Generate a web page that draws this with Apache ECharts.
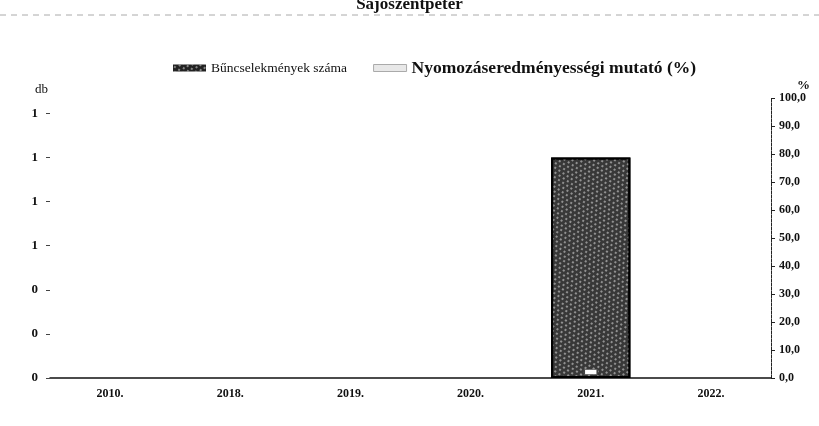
<!DOCTYPE html>
<html>
<head>
<meta charset="utf-8">
<script src="https://cdn.jsdelivr.net/npm/echarts@6/dist/echarts.min.js"></script>
<style>
  html, body { margin: 0; padding: 0; background: #fff; }
  #chart { width: 819px; height: 426px; }
</style>
</head>
<body>
<div id="chart"></div>
<script>
// adatok
const years = ['2010.', '2018.', '2019.', '2020.', '2021.', '2022.']
const crimeCount = [0, 0, 0, 0, 1, 0]
const solveRate = [null, null, null, null, 0, null]
const leftTicks = [0, 0.2, 0.4, 0.6, 0.8, 1.0, 1.2]

const serif = '"Liberation Serif", "DejaVu Serif", serif'
const chart = echarts.init(document.getElementById('chart'))

chart.setOption({
  backgroundColor: '#fff',
  animation: false,
  title: {
    text: 'Sajószentpéter',
    left: 'center',
    top: -9,
    textStyle: { fontFamily: serif, fontSize: 17, fontWeight: 'bold', color: '#111' }
  },
  legend: {
    top: 54,
    left: 168,
    itemWidth: 33,
    itemHeight: 7,
    itemGap: 26,
    textStyle: {
      fontFamily: serif, color: '#111',
      rich: {
        a: { fontFamily: serif, fontSize: 13.5, color: '#111' },
        b: { fontFamily: serif, fontSize: 17.5, fontWeight: 'bold', color: '#111' }
      }
    },
    formatter: name => name === 'Bűncselekmények száma' ? '{a|' + name + '}' : '{b|' + name + '}',
    data: [
      { name: 'Bűncselekmények száma', icon: 'rect', itemStyle: { color: '#222', borderWidth: 0 } },
      { name: 'Nyomozáseredményességi mutató (%)', icon: 'rect', itemStyle: { color: '#e8e8e8', borderColor: '#aaa', borderWidth: 1 } }
    ]
  },
  graphic: [{
    type: 'line',
    shape: { x1: 0, y1: 15, x2: 819, y2: 15 },
    style: { stroke: '#aaa', lineWidth: 1, lineDash: [6, 5] }
  }],
  grid: { left: 50, right: 48, top: 98, bottom: 48 },
  xAxis: {
    type: 'category',
    data: years,
    axisLine: { lineStyle: { color: '#111', width: 1.5 } },
    axisTick: { show: false },
    axisLabel: { fontFamily: serif, fontSize: 12, fontWeight: 'bold', color: '#111', margin: 10 }
  },
  yAxis: [
    {
      type: 'value',
      name: 'db',
      min: 0,
      max: 1.27,
      nameGap: 2,
      nameTextStyle: { fontFamily: serif, fontSize: 13, color: '#111', align: 'right', padding: [0, 2, 0, 0] },
      axisLine: { show: false },
      axisTick: { show: true, length: 4, customValues: leftTicks, lineStyle: { color: '#444' } },
      splitLine: { show: false },
      axisLabel: {
        fontFamily: serif, fontSize: 13, fontWeight: 'bold', color: '#111', margin: 12,
        customValues: leftTicks,
        formatter: v => String(Math.round(v))
      }
    },
    {
      type: 'value',
      name: '%',
      min: 0,
      max: 100,
      interval: 10,
      nameGap: 4,
      nameTextStyle: { fontFamily: serif, fontSize: 13, fontWeight: 'bold', color: '#111', align: 'left', padding: [0, 0, 0, 26] },
      axisLine: { show: true, lineStyle: { color: '#222', width: 1, type: [3, 1] } },
      axisTick: { show: true, length: 4, lineStyle: { color: '#222' } },
      splitLine: { show: false },
      axisLabel: {
        fontFamily: serif, fontSize: 12, fontWeight: 'bold', color: '#111', margin: 8,
        formatter: v => v.toFixed(1).replace('.', ',')
      }
    }
  ],
  series: [
    {
      name: 'Bűncselekmények száma',
      type: 'bar',
      yAxisIndex: 0,
      data: crimeCount.map(v => ({ value: v, itemStyle: v ? {} : { borderWidth: 0 } })),
      barWidth: '66%',
      itemStyle: {
        color: '#383838',
        borderColor: '#000',
        borderWidth: 2,
        decal: {
          symbol: 'circle',
          symbolSize: 1,
          color: 'rgba(225,225,225,0.7)',
          dashArrayX: [[2, 3], [0, 2, 2, 1]],
          dashArrayY: [2, 2],
          rotation: 0.6
        }
      }
    },
    {
      name: 'Nyomozáseredményességi mutató (%)',
      type: 'line',
      yAxisIndex: 1,
      data: solveRate,
      symbol: 'rect',
      symbolSize: [13, 5],
      symbolOffset: [0, -6],
      z: 5,
      lineStyle: { color: '#fff', width: 2 },
      itemStyle: { color: '#fff', borderColor: '#444', borderWidth: 1 }
    }
  ]
})
</script>
</body>
</html>
